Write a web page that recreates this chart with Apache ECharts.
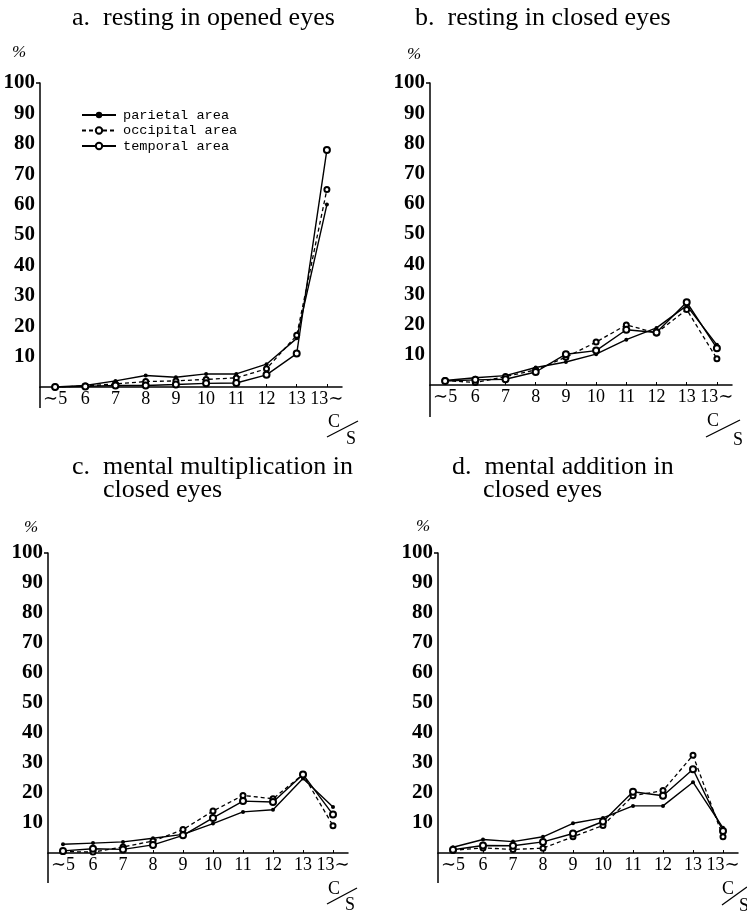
<!DOCTYPE html>
<html><head><meta charset="utf-8">
<script src="https://cdn.jsdelivr.net/npm/echarts@6/dist/echarts.min.js"></script>
<style>html,body{margin:0;padding:0;background:#fff}#c{width:747px;height:911px}</style>
</head><body><div id="c"></div>
<script>
const categories = ['∼5','6','7','8','9','10','11','12','13','13∼'];
const yTickLabels = [10,20,30,40,50,60,70,80,90,100];
const seriesNames = ['parietal area','occipital area','temporal area'];
const panelTitles = [['a.  resting in opened eyes'],['b.  resting in closed eyes'],['c.  mental multiplication in','closed eyes'],['d.  mental addition in','closed eyes']];
// a. resting in opened eyes
const aParietal  = [0,0.5,2,3.8,3.2,4.3,4.3,7.5,16,60];
const aOccipital = [0,0.3,1,1.8,2,2.5,3,6,17,65];
const aTemporal  = [0,0.2,0.5,0.5,0.8,1.2,1.3,4,11,78];
// b. resting in closed eyes
const bParietal  = [1.5,2.4,3.1,5.8,7.6,10.2,15,18.9,26.3,13.3];
const bOccipital = [1.5,0.8,2.8,5,9.2,14.2,19.9,17.2,25,8.7];
const bTemporal  = [1.3,1.7,1.9,4.3,10.2,11.4,18.3,17.4,27.4,12.2];
// c. mental multiplication in closed eyes
const cParietal  = [2.9,3.3,3.7,4.9,6.2,9.8,13.7,14.4,24.8,15.3];
const cOccipital = [0.5,0.3,2.0,4.0,7.8,14,19.2,18.1,26.2,9.1];
const cTemporal  = [0.7,1.4,1.2,2.7,5.9,11.7,17.3,17,26.2,12.8];
// d. mental addition in closed eyes
const dParietal  = [1.9,4.5,3.8,5.4,9.9,11.7,15.7,15.7,23.6,8.4];
const dOccipital = [0.9,1.7,1.2,1.6,5.4,9.2,19.1,20.8,32.6,5.4];
const dTemporal  = [1.1,2.5,2.4,3.7,6.5,10.5,20.4,19.1,27.9,7.3];

const panels = [
  {p:aParietal,o:aOccipital,t:aTemporal},
  {p:bParietal,o:bOccipital,t:bTemporal},
  {p:cParietal,o:cOccipital,t:cTemporal},
  {p:dParietal,o:dOccipital,t:dTemporal}
];
// layout (pixels)
const grids = [
  {left:40, top:83, width:302, zero:387, ext:21},
  {left:430, top:83, width:302, zero:385, ext:32},
  {left:48, top:553, width:300, zero:853, ext:30},
  {left:438, top:553, width:300, zero:853, ext:30}
];
const titlePos = [{x:72,y:18,x2:0},{x:415,y:18,x2:0},{x:72,y:467,x2:103},{x:452,y:467,x2:483}];
const pctPos = [{x:12,y:44},{x:407,y:46},{x:24,y:519},{x:416,y:518}];
const csPos = [
  {cx:334,cy:422, sx:351,sy:439, l:[327,437,358,421]},
  {cx:713,cy:421, sx:738,sy:440, l:[706,437,740,420]},
  {cx:334,cy:889, sx:350,sy:905, l:[327,904,357,888]},
  {cx:728,cy:889, sx:744,sy:906, l:[722,905,747,887]}
];
const serif = '"Liberation Serif","DejaVu Serif",serif';
const chart = echarts.init(document.getElementById('c'), null, {renderer:'canvas'});
const option = {
  backgroundColor:'#fff',
  animation:false,
  grid:[], xAxis:[], yAxis:[], series:[],
  legend:{
    data:seriesNames, orient:'vertical', left:76, top:103, itemGap:1.5,
    itemWidth:34, itemHeight:8,
    textStyle:{fontFamily:'"Liberation Mono","DejaVu Sans Mono",monospace', fontSize:13.6, lineHeight:12, color:'#000', padding:[0,0,0,2]}
  },
  graphic:[]
};
grids.forEach((g,i)=>{
  option.grid.push({left:g.left, top:g.top, width:g.width, height:g.zero-g.top});
  option.xAxis.push({
    type:'category', gridIndex:i, data:categories, boundaryGap:true,
    axisLine:{lineStyle:{color:'#000', width:1.5}},
    axisTick:{show:true, alignWithLabel:true, length:3, inside:true, lineStyle:{color:'#000'}},
    axisLabel:{interval:0, margin:3, color:'#000', fontFamily:serif, fontSize:18},
    splitLine:{show:false}
  });
  option.yAxis.push({
    type:'value', gridIndex:i, min:0, max:100,
    axisLine:{show:true, lineStyle:{color:'#000', width:1.5}},
    axisTick:{show:true, customValues:[100], length:4, lineStyle:{color:'#000', width:1.5}},
    axisLabel:{customValues:yTickLabels, margin:5, color:'#000', fontFamily:serif, fontWeight:'bold', fontSize:21},
    splitLine:{show:false}
  });
  // downward continuation of the y axis line below the x axis
  option.graphic.push({type:'line', shape:{x1:g.left, y1:g.zero, x2:g.left, y2:g.zero+g.ext}, style:{stroke:'#000', lineWidth:1.5}});
  const d = panels[i];
  option.series.push(
    {name:seriesNames[0], type:'line', xAxisIndex:i, yAxisIndex:i, data:d.p,
     symbol:'circle', symbolSize:4, lineStyle:{color:'#000', width:1.4}, itemStyle:{color:'#000'}},
    {name:seriesNames[1], type:'line', xAxisIndex:i, yAxisIndex:i, data:d.o,
     symbol:'emptyCircle', symbolSize:5, lineStyle:{color:'#000', width:1.3, type:[4,3]}, itemStyle:{color:'#000', borderColor:'#000', borderWidth:1.2}},
    {name:seriesNames[2], type:'line', xAxisIndex:i, yAxisIndex:i, data:d.t,
     symbol:'emptyCircle', symbolSize:6, lineStyle:{color:'#000', width:1.4}, itemStyle:{color:'#000', borderColor:'#000', borderWidth:1.3}}
  );
});
// titles
panelTitles.forEach((lines,i)=>{
  const tp = titlePos[i];
  lines.forEach((s,j)=>{
    option.graphic.push({type:'text', x:j===0?tp.x:tp.x2, y:tp.y+j*23,
      style:{text:s, fill:'#000', font:'26px '+serif, textVerticalAlign:'middle'}});
  });
});
// % labels
pctPos.forEach(p=>option.graphic.push({type:'text', left:p.x, top:p.y, style:{text:'%', fill:'#000', font:'italic 17px '+serif}}));
// C/S unit marks
csPos.forEach(p=>{
  option.graphic.push({type:'text', x:p.cx, y:p.cy, style:{text:'C', fill:'#000', font:'18px '+serif, textAlign:'center', textVerticalAlign:'middle'}});
  option.graphic.push({type:'line', shape:{x1:p.l[0], y1:p.l[1], x2:p.l[2], y2:p.l[3]}, style:{stroke:'#000', lineWidth:1.3}});
  option.graphic.push({type:'text', x:p.sx, y:p.sy, style:{text:'S', fill:'#000', font:'18px '+serif, textAlign:'center', textVerticalAlign:'middle'}});
});
chart.setOption(option);
</script></body></html>
